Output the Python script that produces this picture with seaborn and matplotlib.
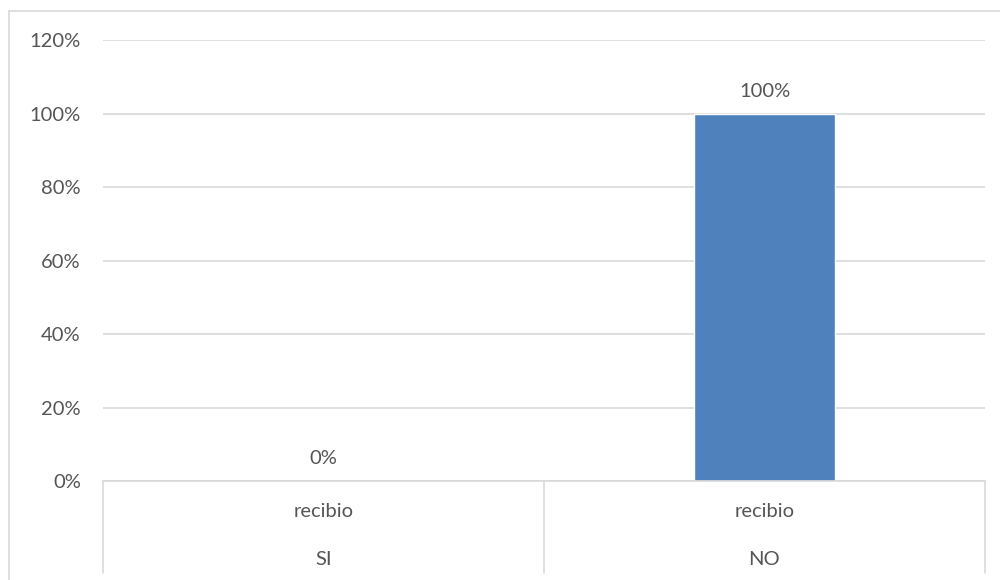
import matplotlib
matplotlib.use("Agg")
import matplotlib.pyplot as plt
import matplotlib.lines as mlines
import seaborn as sns
import pandas as pd
from matplotlib.ticker import FuncFormatter

categories = ["SI", "NO"]
group_label = "recibio"
values = [0, 100]  # percent
yticks = [0, 20, 40, 60, 80, 100, 120]

sns.set_theme(style="white")
plt.rcParams["font.family"] = ["Lato", "DejaVu Sans"]

TEXT = "#555555"
GRID = "#D9D9D9"
BAR = "#4F81BD"
FS = 14.5

df = pd.DataFrame({"cat": categories, "val": values})

fig = plt.figure(figsize=(10, 5.8), dpi=100)
ax = fig.add_axes([0.103, 0.1707, 0.882, 0.760])

sns.barplot(data=df, x="cat", y="val", color=BAR, width=0.318, ax=ax,
            saturation=1, errorbar=None)

ax.set_ylim(0, 120)
ax.set_xlim(-0.5, 1.5)
ax.set_yticks(yticks)
ax.yaxis.set_major_formatter(FuncFormatter(lambda v, p: f"{v:.0f}%"))
ax.tick_params(axis="y", length=0, pad=16, labelsize=FS, labelcolor=TEXT)
ax.set_xticks([])
ax.set_xlabel("")
ax.set_ylabel("")
for s in ["top", "right", "left"]:
    ax.spines[s].set_visible(False)
ax.spines["bottom"].set_color(GRID)
ax.spines["bottom"].set_linewidth(1.2)
ax.grid(axis="y", color=GRID, linewidth=1.2)
ax.set_axisbelow(True)

# data labels
for cont in ax.containers:
    ax.bar_label(cont, labels=[f"{v:.0f}%" for v in values], padding=10,
                 fontsize=FS, color=TEXT)

# multi-level category axis
xt = ax.get_xaxis_transform()
for i, c in enumerate(categories):
    ax.text(i, -0.070, group_label, transform=xt, ha="center", va="center",
            fontsize=FS, color=TEXT, clip_on=False)
    ax.text(i, -0.179, c, transform=xt, ha="center", va="center",
            fontsize=FS, color=TEXT, clip_on=False)
for xs in [-0.5, 0.5, 1.5]:
    ax.plot([xs, xs], [0, -0.209], transform=xt, color=GRID, linewidth=1.2,
            clip_on=False)

# chart-area border
fig.add_artist(mlines.Line2D([0.009, 1.0], [0.981, 0.981], color=GRID,
                             linewidth=1.2, transform=fig.transFigure))
fig.add_artist(mlines.Line2D([0.009, 0.009], [0.0, 0.981], color=GRID,
                             linewidth=1.2, transform=fig.transFigure))

fig.savefig("out.png", dpi=100)
